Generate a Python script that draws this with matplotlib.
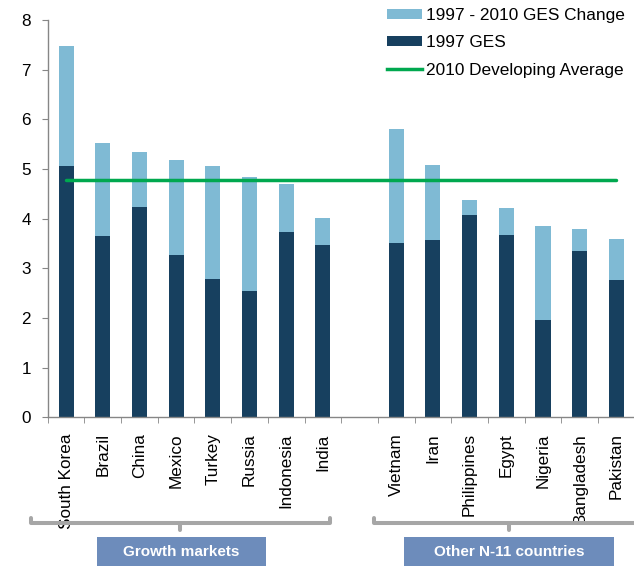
import matplotlib
matplotlib.use("Agg")
import matplotlib.pyplot as plt
from matplotlib.lines import Line2D
from matplotlib.patches import Patch, Rectangle

plt.rcParams['font.family'] = ['Liberation Sans', 'DejaVu Sans']

growth_countries = ["South Korea", "Brazil", "China", "Mexico", "Turkey", "Russia", "Indonesia", "India"]
growth_base = [5.07, 3.65, 4.23, 3.27, 2.79, 2.54, 3.74, 3.47]
growth_change = [2.41, 1.87, 1.11, 1.92, 2.27, 2.30, 0.96, 0.54]

other_countries = ["Vietnam", "Iran", "Philippines", "Egypt", "Nigeria", "Bangladesh", "Pakistan"]
other_base = [3.51, 3.58, 4.08, 3.67, 1.96, 3.34, 2.77]
other_change = [2.29, 1.50, 0.30, 0.54, 1.90, 0.45, 0.82]

developing_avg_2010 = 4.77
group_names = ["Growth markets", "Other N-11 countries"]
legend_labels = ["1997 - 2010 GES Change", "1997 GES", "2010 Developing Average"]

DARK = "#17405f"
LIGHT = "#7fbad4"
GREEN = "#00a84f"
GRAY = "#a6a6a6"
BOX = "#6d8cbb"

W, H = 634, 566
fig = plt.figure(figsize=(W / 100, H / 100), dpi=100)

def fx(px):
    return px / W

def fy(py):
    return 1 - py / H

ax = fig.add_axes([fx(47.7), fy(417.3), fx(634.7) - fx(47.7), fy(20) - fy(417.3)])

categories = growth_countries + other_countries
base = growth_base + other_base
change = growth_change + other_change
pos = list(range(len(growth_countries))) + [len(growth_countries) + 1 + i for i in range(len(other_countries))]

bw = 0.41
ax.bar(pos, base, width=bw, color=DARK, zorder=2)
ax.bar(pos, change, width=bw, bottom=base, color=LIGHT, zorder=2)
ax.plot([pos[0], pos[-1]], [developing_avg_2010] * 2, color=GREEN, lw=2.5,
        solid_capstyle='round', zorder=3)

n_slots = pos[-1] + 1
ax.set_xlim(-0.5, n_slots - 0.5)
ax.set_ylim(0, 8)
ax.set_yticks(range(0, 9))
ax.set_xticks(pos)
ax.set_xticklabels(categories, rotation=90, va='top', ha='center', fontsize=12.3)
ax.set_xticks([i - 0.5 for i in range(n_slots + 1)], minor=True)
ax.tick_params(axis='x', which='major', length=0, pad=11.5)
ax.tick_params(axis='x', which='minor', length=4, direction='out', color='#868686')
ax.tick_params(axis='y', length=4, direction='out', color='#868686', labelsize=12.3, pad=8)
for s in ['top', 'right']:
    ax.spines[s].set_visible(False)
for s in ['left', 'bottom']:
    ax.spines[s].set_color('#868686')
    ax.spines[s].set_linewidth(1)

handles = [Patch(facecolor=LIGHT), Patch(facecolor=DARK), Line2D([], [], color=GREEN, lw=2.5)]
leg = fig.legend(handles, legend_labels, loc='upper left', bbox_to_anchor=(fx(387), fy(8)),
                 frameon=False, fontsize=12.4, handlelength=2.05, handleheight=0.55,
                 handletextpad=0.2, labelspacing=0.72, borderpad=0, borderaxespad=0)

# brackets
def bracket(x0, x1, xm):
    y = 523
    kw = dict(color=GRAY, lw=2.9, solid_capstyle='round', solid_joinstyle='round',
              transform=fig.transFigure, clip_on=False)
    fig.add_artist(Line2D([fx(x0), fx(x0), fx(x1), fx(x1)],
                          [fy(518), fy(y), fy(y), fy(518)], **kw))
    fig.add_artist(Line2D([fx(xm), fx(xm)], [fy(y), fy(530)], **kw))

bracket(31, 330, 180)
bracket(374, 645, 509)

for (x0, x1), name in zip([(97, 266), (404, 614)], group_names):
    fig.add_artist(Rectangle((fx(x0), fy(566)), fx(x1) - fx(x0), fy(537) - fy(566),
                             transform=fig.transFigure, facecolor=BOX, edgecolor='none'))
    fig.text(fx((x0 + x1) / 2), fy(552), name, color='white', fontsize=11,
             fontweight='bold', ha='center', va='center')

fig.savefig("out.png", dpi=100)
